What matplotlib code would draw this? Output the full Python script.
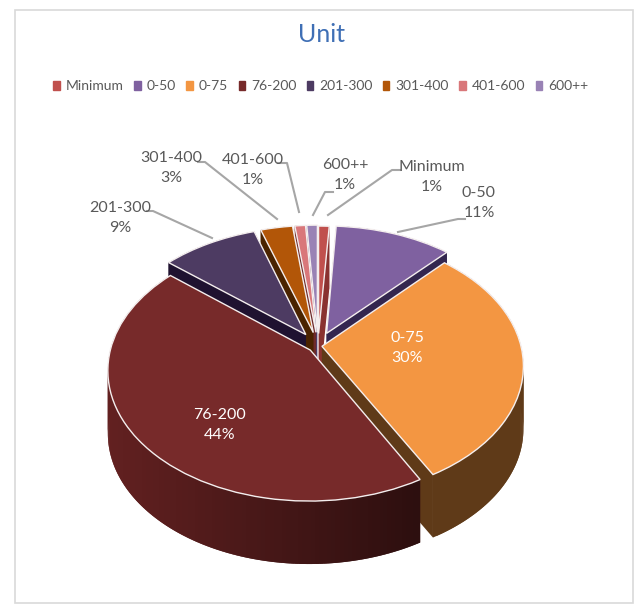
#!/usr/bin/env python3
# -*- coding: utf-8 -*-
"""
Unit share, drawn as a tilted and exploded pie with side walls.
"""
import numpy as np
import matplotlib
matplotlib.use('Agg')
import matplotlib.pyplot as plt
from matplotlib.patches import Patch, Rectangle
from matplotlib.transforms import Transform

categories = ['Minimum', '0-50', '0-75', '76-200', '201-300', '301-400', '401-600', '600++']
values = [1, 11, 30, 44, 9, 3, 1, 1]
percent_labels = ['1%', '11%', '30%', '44%', '9%', '3%', '1%', '1%']
colors = ['#c0504d', '#7f61a0', '#f39642', '#772a2a', '#4d3b62', '#b25608', '#d9777a', '#9982b5']
wall_colors = ['#8a3230', '#33264f', '#5f3a18', '#5e1f1f', '#1f1230', '#4a2300', '#6e2a2a', '#4d3b62']
explode = [0.10, 0.11, 0.02, 0.05, 0.11, 0.11, 0.11, 0.11]

# label centres and leader lines, in pixels of the picture
label_pos = [(432, 177), (479, 203), (407, 348), (220, 425), (120, 218), (171, 168), (253, 170), (345, 175)]
leaders = [
    [(400, 170), (392, 170), (328, 215)],
    [(465, 219), (458, 219), (398, 232)],
    None,
    None,
    [(147, 211), (153, 211), (212, 238)],
    [(198, 162), (205, 162), (277, 219)],
    [(278, 163), (287, 163), (299, 212)],
    [(333, 192), (325, 192), (313, 215)],
]
draw_order = [7, 6, 0, 5, 1, 4, 2, 3]

W, H = 638, 606
cx, cy = 318, 346
rx, ry = 199, 127
tilt = 0.15
depth = 63


class Tilt(Transform):
    """unit pie coordinates -> picture pixels, with a bit of perspective"""
    input_dims = 2
    output_dims = 2

    def transform_non_affine(self, xy):
        xy = np.asarray(xy, dtype=float)
        p = 1 / (1 + tilt * xy[:, 1])
        return np.column_stack([cx + rx * xy[:, 0] * p, cy - ry * xy[:, 1] * p])


def shade(col, f):
    rgb = np.array(matplotlib.colors.to_rgb(col))
    return tuple(np.clip(rgb * f, 0, 1))


plt.rcParams['font.family'] = ['Lato', 'DejaVu Sans']
fig = plt.figure(figsize=(W / 100, H / 100), dpi=100)
ax = fig.add_axes([0, 0, 1, 1])

tilted = Tilt()
wedges, _ = ax.pie(values, explode=explode, colors=colors, startangle=90, counterclock=False,
                   wedgeprops={'edgecolor': '#f4eeee', 'linewidth': 1.0})
ax.set_aspect('auto')
ax.set_xlim(0, W)
ax.set_ylim(H, 0)
ax.axis('off')

for z, i in enumerate(draw_order):
    w = wedges[i]
    w.set_transform(tilted + ax.transData)
    w.set_zorder(2 * z + 3)
    c = np.array(w.center)
    # radial walls
    for th in (w.theta1, w.theta2):
        edge = np.array([c, c + w.r * np.array([np.cos(np.radians(th)), np.sin(np.radians(th))])])
        top = tilted.transform_non_affine(edge)
        ax.fill([top[0, 0], top[1, 0], top[1, 0], top[0, 0]],
                [top[0, 1], top[1, 1], top[1, 1] + depth, top[0, 1] + depth],
                color=wall_colors[i], lw=0, zorder=2 * z + 2)
    # outer wall, darker to the right for the big slice
    ths = np.linspace(w.theta1, w.theta2, max(4, int(w.theta2 - w.theta1)))
    arc = c + w.r * np.column_stack([np.cos(np.radians(ths)), np.sin(np.radians(ths))])
    arc = tilted.transform_non_affine(arc)
    # quads overlap by one step so no seams show between them
    for j in range(len(arc) - 1):
        k = min(j + 2, len(arc) - 1)
        f = 1.0
        if i == 3:
            f = np.interp(arc[j, 0], [105, 413], [1.05, 0.48])
        ax.fill([arc[j, 0], arc[k, 0], arc[k, 0], arc[j, 0]],
                [arc[j, 1], arc[k, 1], arc[k, 1] + depth, arc[j, 1] + depth],
                color=shade(wall_colors[i], f), lw=0, zorder=2 * z + 2)

# frame
ax.add_patch(Rectangle((15, 10), 618, 593, fill=False, ec='#d9d9d9', lw=1.2, zorder=1))

ax.text(322, 34, 'Unit', color='#3f6fb5', fontsize=18, ha='center', va='center')

handles = [Patch(color=c) for c in colors]
ax.legend(handles, categories, ncol=8, loc='center', bbox_to_anchor=(321 / W, 1 - 86 / H),
          frameon=False, fontsize=10, labelcolor='#595959', handlelength=0.45, handleheight=0.6,
          handletextpad=0.45, columnspacing=0.75, borderpad=0)

for i, name in enumerate(categories):
    col = 'white' if i in (2, 3) else '#595959'
    x, y = label_pos[i]
    ax.text(x, y, name + '\n' + percent_labels[i], color=col, fontsize=11.5, ha='center', va='center',
            linespacing=1.55, zorder=40)
    if leaders[i] is not None:
        xs, ys = zip(*leaders[i])
        ax.plot(xs, ys, color='#a6a6a6', lw=1.5, zorder=39)

fig.savefig('out.png', dpi=100)
